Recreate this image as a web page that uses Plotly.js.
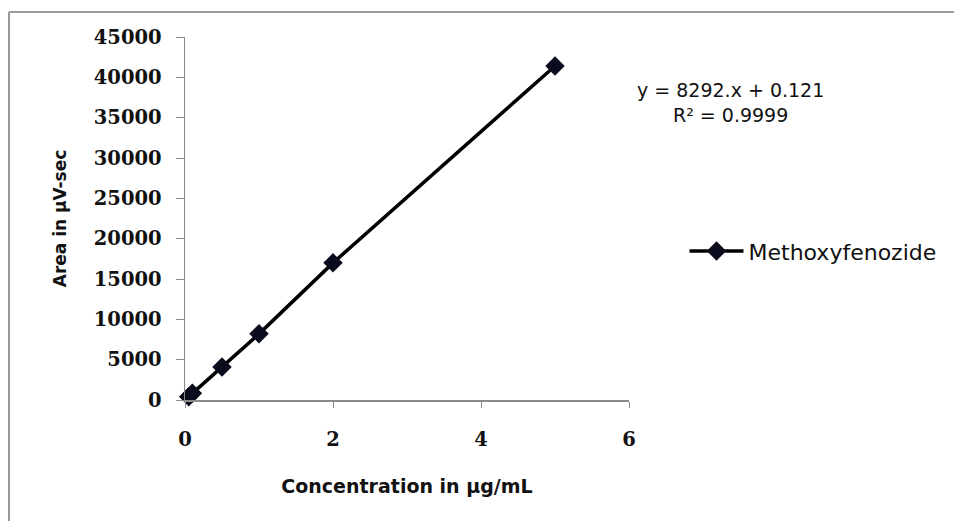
<!DOCTYPE html>
<html>
<head>
<meta charset="utf-8">
<script src="https://cdn.plot.ly/plotly-3.0.1.min.js"></script>
<style>html,body{margin:0;padding:0;background:#fff;}#chart{width:954px;height:521px;}</style>
</head>
<body>
<div id="chart"></div>
<script>
const seriesName = "Methoxyfenozide";
const concentration = [0.05, 0.1, 0.5, 1, 2, 5];
const area = [415, 830, 4100, 8200, 17000, 41400];
const xTicks = [0, 2, 4, 6];
const yTicks = [0, 5000, 10000, 15000, 20000, 25000, 30000, 35000, 40000, 45000];
const yTickLabels = ["0", "5000", "10000", "15000", "20000", "25000", "30000", "35000", "40000", "45000"];
const equationText = "y = 8292.x + 0.121<br>R\u00b2 = 0.9999";
const xTitle = "Concentration in \u00b5g/mL";
const yTitle = "Area in \u00b5V-sec";

const axisGray = "#8a8a8a";
const tickFont = {family: "DejaVu Serif", size: 19.5, color: "#111", weight: "bold"};
const titleFont = {family: "DejaVu Sans", size: 17, color: "#111", weight: "bold"};

const trace = {
  x: concentration, y: area, name: seriesName,
  type: "scatter", mode: "lines+markers",
  line: {color: "#000", width: 3.5},
  marker: {symbol: "diamond", size: 15, color: "#0b0b1e"},
  cliponaxis: false
};

const layout = {
  width: 954, height: 521,
  margin: {l: 185, r: 325, t: 37, b: 121},
  paper_bgcolor: "#fff", plot_bgcolor: "#fff",
  showlegend: true,
  legend: {x: 1.125, y: 0.41, xanchor: "left", yanchor: "middle",
    font: {family: "DejaVu Sans", size: 22, color: "#111"}, itemwidth: 54, bgcolor: "rgba(0,0,0,0)"},
  xaxis: {range: [0, 6], tickvals: xTicks, ticks: "outside", ticklen: 6, tickcolor: axisGray,
    showline: true, linecolor: axisGray, linewidth: 1.5, showgrid: false, zeroline: false,
    tickfont: tickFont, ticklabelstandoff: 15,
    title: {text: xTitle, font: {family: "DejaVu Sans", size: 19, color: "#111", weight: "bold"}, standoff: 30}},
  yaxis: {range: [0, 45000], tickvals: yTicks, ticktext: yTickLabels, ticks: "outside", ticklen: 8, tickcolor: axisGray,
    showline: true, linecolor: axisGray, linewidth: 1.5, showgrid: false, zeroline: false,
    tickfont: tickFont, ticklabelstandoff: 10,
    title: {text: yTitle, font: titleFont, standoff: 23}},
  annotations: [{xref: "paper", yref: "paper", x: (730 - 185) / 444, y: (400 - 102) / 363,
    text: equationText, showarrow: false, align: "center", xanchor: "center", yanchor: "middle",
    font: {family: "DejaVu Sans", size: 19, color: "#111"}}],
  shapes: [
    {type: "line", xref: "paper", yref: "paper", x0: (9 - 185) / 444, x1: 2, y0: (400 - 12) / 363, y1: (400 - 12) / 363,
      line: {color: "#9a9a9a", width: 2}},
    {type: "line", xref: "paper", yref: "paper", x0: (9 - 185) / 444, x1: (9 - 185) / 444, y0: (400 - 12) / 363, y1: -1,
      line: {color: "#9a9a9a", width: 2}}
  ]
};

Plotly.newPlot("chart", [trace], layout, {displayModeBar: false, staticPlot: true});
</script>
</body>
</html>
